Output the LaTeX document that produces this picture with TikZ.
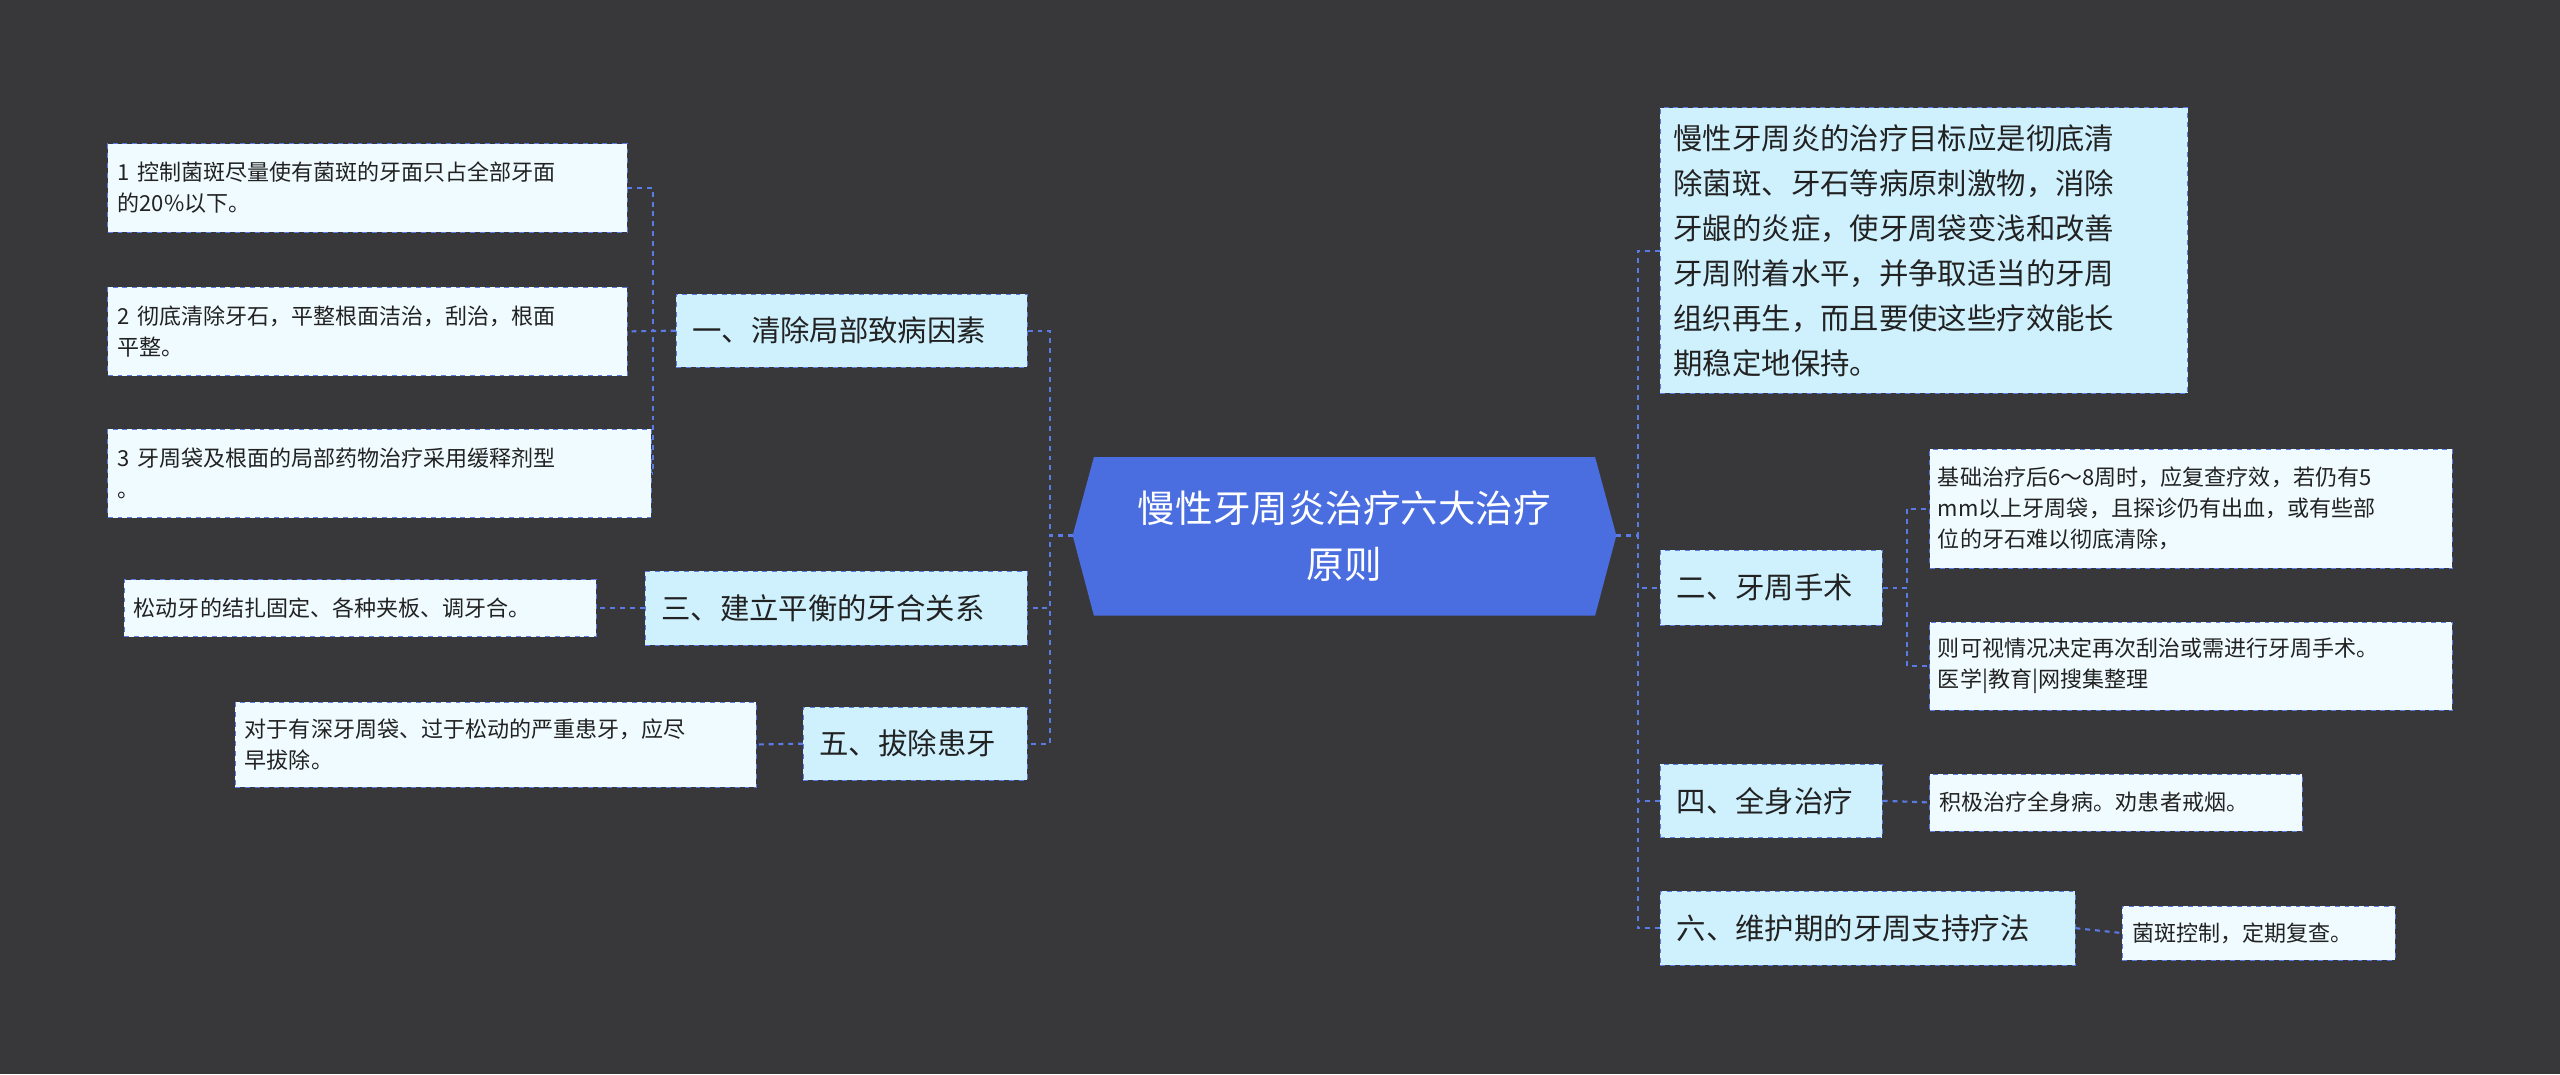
\documentclass[tikz,border=0pt]{standalone}
\usepackage{fontspec}
\setmainfont{Noto Sans CJK SC}
\begin{document}
\begin{tikzpicture}[x=1pt,y=-1pt,
 lvl/.style={draw=lnk,dashed,fill=lv,text=txt,font=\fontsize{18}{23}\selectfont,inner sep=0pt,align=left},
 leaf/.style={draw=lnk,dashed,fill=lf,text=txt,font=\fontsize{13.5}{19}\selectfont,inner sep=0pt,align=left},
 con/.style={draw=lnk,dashed,line width=1.3pt}]
\definecolor{bg}{HTML}{38383A}
\definecolor{lnk}{HTML}{5A7BE6}
\definecolor{lv}{HTML}{CFF1FD}
\definecolor{lf}{HTML}{F0FBFF}
\definecolor{txt}{HTML}{222222}
\definecolor{ctr}{HTML}{4A6EE0}
\fill[bg] (0,0) rectangle (1568,658);
\useasboundingbox (0,0) rectangle (1568,658);
% center
\fill[ctr] (657,328)--(670,280)--(977,280)--(990,328)--(977,377)--(670,377)--cycle;
\node[text=white,font=\fontsize{23}{34}\selectfont,align=center,minimum width=333pt,minimum height=97pt] (c) at (823.5,328.5) {慢性牙周炎治疗六大治疗\\原则};
\coordinate (cl) at (657,328); \coordinate (cr) at (990,328);
% level 1
\node[lvl,minimum width=215pt,minimum height=45pt,text width=195pt] (a1) at (521.5,202.5) {一、清除局部致病因素};
\node[lvl,minimum width=234pt,minimum height=45pt,text width=214pt] (a3) at (512,372.5) {三、建立平衡的牙合关系};
\node[lvl,minimum width=137pt,minimum height=45pt,text width=117pt] (a5) at (560.5,455.5) {五、拔除患牙};
\node[lvl,minimum width=323pt,minimum height=175pt,text width=307pt,font=\fontsize{18}{27.5}\selectfont] (b0) at (1178.5,153.5) {慢性牙周炎的治疗目标应是彻底清\\除菌斑、牙石等病原刺激物，消除\\牙龈的炎症，使牙周袋变浅和改善\\牙周附着水平，并争取适当的牙周\\组织再生，而且要使这些疗效能长\\期稳定地保持。};
\node[lvl,minimum width=136pt,minimum height=46pt,text width=116pt] (b2) at (1085,360) {二、牙周手术};
\node[lvl,minimum width=136pt,minimum height=45pt,text width=116pt] (b4) at (1085,490.5) {四、全身治疗};
\node[lvl,minimum width=254pt,minimum height=45pt,text width=234pt] (b6) at (1144,568.5) {六、维护期的牙周支持疗法};
% leaves
\node[leaf,minimum width=318pt,minimum height=54pt,text width=306pt] (l1) at (225,115) {1 控制菌斑尽量使有菌斑的牙面只占全部牙面\\的20\%以下。};
\node[leaf,minimum width=318pt,minimum height=54pt,text width=306pt] (l2) at (225,203) {2 彻底清除牙石，平整根面洁治，刮治，根面\\平整。};
\node[leaf,minimum width=333pt,minimum height=54pt,text width=321pt] (l3) at (232.5,290) {3 牙周袋及根面的局部药物治疗采用缓释剂型\\。};
\node[leaf,minimum width=289pt,minimum height=35pt,text width=277pt] (l4) at (220.5,372.5) {松动牙的结扎固定、各种夹板、调牙合。};
\node[leaf,minimum width=319pt,minimum height=52pt,text width=307pt] (l5) at (303.5,456) {对于有深牙周袋、过于松动的严重患牙，应尽\\早拔除。};
\node[leaf,minimum width=320pt,minimum height=73pt,text width=310pt] (r1) at (1342,311.5) {基础治疗后6～8周时，应复查疗效，若仍有5\\mm以上牙周袋，且探诊仍有出血，或有些部\\位的牙石难以彻底清除，};
\node[leaf,minimum width=320pt,minimum height=54pt,text width=310pt] (r2) at (1342,408) {则可视情况决定再次刮治或需进行牙周手术。\\医学|教育|网搜集整理};
\node[leaf,minimum width=228pt,minimum height=35pt,text width=216pt] (r3) at (1296,491.5) {积极治疗全身病。劝患者戒烟。};
\node[leaf,minimum width=167pt,minimum height=33pt,text width=155pt] (r4) at (1383.5,571.5) {菌斑控制，定期复查。};
% connectors
\draw[con] (cl) -- ++(-14,0) |- (a1.east);
\draw[con] (cl) -- ++(-14,0) |- (a3.east);
\draw[con] (cl) -- ++(-14,0) |- (a5.east);
\draw[con] (a1.west) -- ++(-14,0) |- (l1.east);
\draw[con] (a1.west) -- (l2.east);
\draw[con] (a1.west) -- ++(-14,0) |- (l3.east);
\draw[con] (a3.west) -- (l4.east);
\draw[con] (a5.west) -- (l5.east);
\draw[con] (cr) -- ++(13,0) |- (b0.west);
\draw[con] (cr) -- ++(13,0) |- (b2.west);
\draw[con] (cr) -- ++(13,0) |- (b4.west);
\draw[con] (cr) -- ++(13,0) |- (b6.west);
\draw[con] (b2.east) -- ++(15,0) |- (r1.west);
\draw[con] (b2.east) -- ++(15,0) |- (r2.west);
\draw[con] (b4.east) -- (r3.west);
\draw[con] (b6.east) -- (r4.west);
\end{tikzpicture}
\end{document}
